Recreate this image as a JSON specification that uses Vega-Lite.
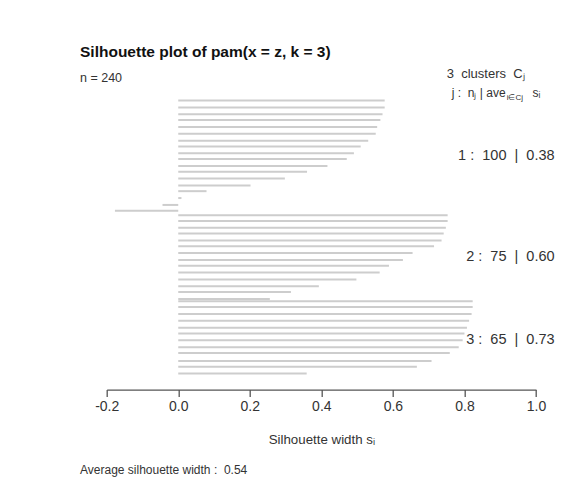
{
  "$schema": "https://vega.github.io/schema/vega-lite/v6.json",
  "width": 429.3,
  "height": 290.2,
  "autosize": {"type": "none"},
  "padding": {"left": 106.7, "top": 99.4, "right": 28, "bottom": 94.4},
  "background": "white",
  "config": {"view": {"stroke": null}, "font": "Liberation Sans"},
  "datasets": {
    "bars": [
      {"cluster": 1, "obs": 1, "s": 0.577},
      {"cluster": 1, "obs": 7, "s": 0.577},
      {"cluster": 1, "obs": 13, "s": 0.571},
      {"cluster": 1, "obs": 18, "s": 0.565},
      {"cluster": 1, "obs": 24, "s": 0.556},
      {"cluster": 1, "obs": 30, "s": 0.552},
      {"cluster": 1, "obs": 36, "s": 0.531},
      {"cluster": 1, "obs": 41, "s": 0.51},
      {"cluster": 1, "obs": 47, "s": 0.491},
      {"cluster": 1, "obs": 52, "s": 0.471},
      {"cluster": 1, "obs": 58, "s": 0.417},
      {"cluster": 1, "obs": 63, "s": 0.36},
      {"cluster": 1, "obs": 69, "s": 0.298},
      {"cluster": 1, "obs": 75, "s": 0.202},
      {"cluster": 1, "obs": 80, "s": 0.079},
      {"cluster": 1, "obs": 86, "s": 0.009},
      {"cluster": 1, "obs": 92, "s": -0.044},
      {"cluster": 1, "obs": 97, "s": -0.177},
      {"cluster": 2, "obs": 101, "s": 0.753},
      {"cluster": 2, "obs": 106, "s": 0.753},
      {"cluster": 2, "obs": 112, "s": 0.748},
      {"cluster": 2, "obs": 117, "s": 0.742},
      {"cluster": 2, "obs": 123, "s": 0.736},
      {"cluster": 2, "obs": 128, "s": 0.715},
      {"cluster": 2, "obs": 134, "s": 0.655},
      {"cluster": 2, "obs": 140, "s": 0.628},
      {"cluster": 2, "obs": 145, "s": 0.589},
      {"cluster": 2, "obs": 151, "s": 0.563},
      {"cluster": 2, "obs": 157, "s": 0.498},
      {"cluster": 2, "obs": 163, "s": 0.393},
      {"cluster": 2, "obs": 168, "s": 0.315},
      {"cluster": 2, "obs": 174, "s": 0.256},
      {"cluster": 3, "obs": 176, "s": 0.823},
      {"cluster": 3, "obs": 181, "s": 0.823},
      {"cluster": 3, "obs": 187, "s": 0.82},
      {"cluster": 3, "obs": 193, "s": 0.813},
      {"cluster": 3, "obs": 199, "s": 0.807},
      {"cluster": 3, "obs": 204, "s": 0.8},
      {"cluster": 3, "obs": 210, "s": 0.795},
      {"cluster": 3, "obs": 216, "s": 0.784},
      {"cluster": 3, "obs": 221, "s": 0.759},
      {"cluster": 3, "obs": 228, "s": 0.708},
      {"cluster": 3, "obs": 233, "s": 0.667},
      {"cluster": 3, "obs": 239, "s": 0.359}
    ],
    "clusters": [
      {"cluster": 1, "n": 100, "ave": "0.38", "first": 1, "last": 98},
      {"cluster": 2, "n": 75, "ave": "0.60", "first": 101, "last": 174},
      {"cluster": 3, "n": 65, "ave": "0.73", "first": 176, "last": 243}
    ]
  },
  "layer": [
    {
      "data": {"name": "bars"},
      "mark": {"type": "rule", "color": "#cdcdcd", "strokeWidth": 2},
      "encoding": {
        "x": {
          "field": "s",
          "type": "quantitative",
          "scale": {"domain": [-0.2, 1.0], "nice": false, "zero": false},
          "axis": {
            "values": [-0.2, 0, 0.2, 0.4, 0.6, 0.8, 1.0],
            "labelExpr": "replace(format(datum.value, '.1f'), '\u2212', '-')",
            "grid": false,
            "tickSize": 7,
            "domainColor": "#555555",
            "tickColor": "#555555",
            "domainWidth": 1.3,
            "tickWidth": 1.3,
            "labelFontSize": 14,
            "labelColor": "#333333",
            "labelPadding": 3,
            "labelFlush": false,
            "labelBound": false,
            "title": "Silhouette width s\u1d62",
            "titleFontSize": 13.3,
            "titleFontWeight": "normal",
            "titleColor": "#333333",
            "titlePadding": 19
          }
        },
        "x2": {"datum": 0},
        "y": {
          "field": "obs",
          "type": "quantitative",
          "scale": {"domain": [0, 253], "nice": false, "zero": false, "reverse": true},
          "axis": null
        }
      }
    },
    {
      "data": {"name": "clusters"},
      "transform": [
        {"calculate": "datum.cluster + ' :\u00a0\u00a0' + datum.n + '\u00a0\u00a0|\u00a0\u00a0' + datum.ave", "as": "label"},
        {"calculate": "(datum.first + datum.last) / 2", "as": "mid"}
      ],
      "mark": {"type": "text", "align": "right", "baseline": "middle", "fontSize": 14.5, "color": "#333333"},
      "encoding": {
        "x": {"datum": 1.052},
        "y": {"field": "mid", "type": "quantitative"},
        "text": {"field": "label"}
      }
    },
    {
      "data": {"values": [{}]},
      "mark": {"type": "text", "text": "Silhouette plot of pam(x = z, k = 3)", "align": "left", "baseline": "alphabetic", "fontSize": 15.5, "fontWeight": "bold", "color": "#111111"},
      "encoding": {"x": {"datum": -0.2746}, "y": {"datum": -37}}
    },
    {
      "data": {"values": [{}]},
      "mark": {"type": "text", "text": "n = 240", "align": "left", "baseline": "alphabetic", "fontSize": 12.5, "color": "#333333"},
      "encoding": {"x": {"datum": -0.2746}, "y": {"datum": -15.2}}
    },
    {
      "data": {"values": [{}]},
      "mark": {"type": "text", "text": "3\u00a0 clusters\u00a0 C\u2c7c", "align": "left", "baseline": "alphabetic", "fontSize": 13, "color": "#333333"},
      "encoding": {"x": {"datum": 0.7506}, "y": {"datum": -18.7}}
    },
    {
      "data": {"values": [{}]},
      "mark": {"type": "text", "text": "j :\u00a0 n\u2c7c | ave", "align": "left", "baseline": "alphabetic", "fontSize": 12, "color": "#333333"},
      "encoding": {"x": {"datum": 0.7645}, "y": {"datum": -2.1}}
    },
    {
      "data": {"values": [{}]},
      "mark": {"type": "text", "text": "i\u2208Cj", "align": "left", "baseline": "alphabetic", "fontSize": 8, "color": "#333333"},
      "encoding": {"x": {"datum": 0.918}, "y": {"datum": 0.6}}
    },
    {
      "data": {"values": [{}]},
      "mark": {"type": "text", "text": "s\u1d62", "align": "left", "baseline": "alphabetic", "fontSize": 12, "color": "#333333"},
      "encoding": {"x": {"datum": 0.99}, "y": {"datum": -2.1}}
    },
    {
      "data": {"values": [{}]},
      "mark": {"type": "text", "text": "Average silhouette width :\u00a0 0.54", "align": "left", "baseline": "alphabetic", "fontSize": 12, "color": "#333333"},
      "encoding": {"x": {"datum": -0.2746}, "y": {"datum": 326.6}}
    }
  ]
}
